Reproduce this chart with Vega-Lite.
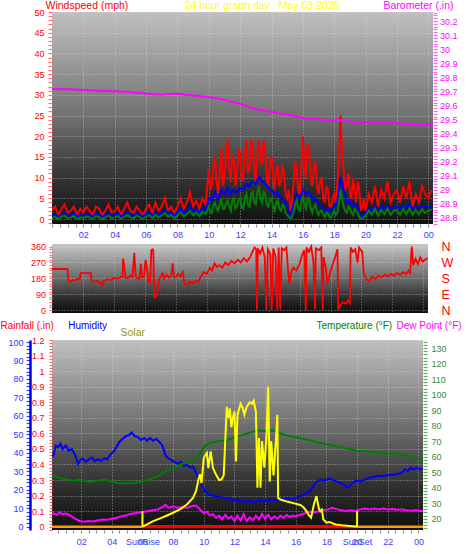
{
 "$schema": "https://vega.github.io/schema/vega-lite/v6.json",
 "padding": 0,
 "background": "#ffffff",
 "spacing": 0,
 "config": {
  "font": "Liberation Sans",
  "view": {"stroke": null},
  "axis": {"labelFont": "Liberation Sans", "labelFontSize": 9, "titleFont": "Liberation Sans", "titleFontWeight": "normal", "titleFontSize": 10.5, "domain": false, "labelOverlap": false, "labelFlush": false, "gridDash": [1, 2], "gridColor": "#d8d8d8", "gridWidth": 1, "tickWidth": 1.2, "labelBound": false}
 },
 "datasets": {
  "wind": [
   {"t":0.0,"g":2,"a":0.8,"l":0.2},{"t":0.2,"g":3,"a":1,"l":0.5},{"t":0.4,"g":1,"a":0.6,"l":0},{"t":0.6,"g":2.5,"a":1.2,"l":0.6},{"t":0.8,"g":3.5,"a":1.5,"l":0.8},
   {"t":1.0,"g":1.5,"a":0.8,"l":0.2},{"t":1.2,"g":2,"a":1,"l":0.4},{"t":1.4,"g":3,"a":1.3,"l":0.7},{"t":1.6,"g":1,"a":0.6,"l":0},{"t":1.8,"g":2.5,"a":1,"l":0.4},
   {"t":2.0,"g":1.5,"a":0.8,"l":0.3},{"t":2.2,"g":3,"a":1.2,"l":0.6},{"t":2.4,"g":2,"a":1,"l":0.4},{"t":2.6,"g":1,"a":0.6,"l":0},{"t":2.8,"g":3,"a":1.3,"l":0.7},
   {"t":3.0,"g":2.5,"a":1.1,"l":0.5},{"t":3.2,"g":1,"a":0.5,"l":0},{"t":3.4,"g":2,"a":1,"l":0.4},{"t":3.6,"g":3.5,"a":1.5,"l":0.8},{"t":3.8,"g":1.5,"a":0.8,"l":0.2},
   {"t":4.0,"g":2,"a":1,"l":0.4},{"t":4.2,"g":3,"a":1.3,"l":0.7},{"t":4.4,"g":1,"a":0.6,"l":0},{"t":4.6,"g":2.5,"a":1.1,"l":0.5},{"t":4.8,"g":4,"a":1.8,"l":1},
   {"t":5.0,"g":2,"a":1,"l":0.4},{"t":5.2,"g":1.5,"a":0.8,"l":0.2},{"t":5.4,"g":3,"a":1.4,"l":0.8},{"t":5.6,"g":2,"a":1,"l":0.4},{"t":5.8,"g":1,"a":0.6,"l":0},
   {"t":6.0,"g":2.5,"a":1.2,"l":0.6},{"t":6.2,"g":3.5,"a":1.6,"l":0.9},{"t":6.4,"g":1.5,"a":0.8,"l":0.2},{"t":6.6,"g":4,"a":1.8,"l":1},{"t":6.8,"g":2,"a":1,"l":0.4},
   {"t":7.0,"g":3,"a":1.4,"l":0.8},{"t":7.2,"g":5,"a":2.2,"l":1.4},{"t":7.4,"g":2,"a":1.1,"l":0.5},{"t":7.6,"g":3,"a":1.5,"l":0.9},{"t":7.8,"g":1.5,"a":0.8,"l":0.2},
   {"t":8.0,"g":3,"a":1.5,"l":0.8},{"t":8.2,"g":5,"a":2.4,"l":1.6},{"t":8.4,"g":2.5,"a":1.4,"l":0.6},{"t":8.6,"g":4,"a":2,"l":1.2},{"t":8.8,"g":6.5,"a":3,"l":2},
   {"t":9.0,"g":3,"a":1.8,"l":0.9},{"t":9.2,"g":4.5,"a":2.4,"l":1.6},{"t":9.4,"g":2.5,"a":1.5,"l":0.7},{"t":9.6,"g":5,"a":2.6,"l":1.8},{"t":9.8,"g":3.5,"a":2,"l":1.2},
   {"t":10.0,"g":12,"a":5,"l":3},{"t":10.1,"g":7,"a":4.8,"l":1.8},{"t":10.2,"g":8,"a":4.5,"l":1.5},{"t":10.3,"g":13,"a":5.5,"l":3.5},{"t":10.4,"g":15,"a":6.5,"l":4},{"t":10.5,"g":9,"a":5.5,"l":2.5},{"t":10.6,"g":6,"a":5,"l":2},{"t":10.7,"g":11,"a":6,"l":3.5},{"t":10.8,"g":17,"a":7,"l":5},{"t":10.9,"g":8,"a":6.5,"l":2.5},
   {"t":11.0,"g":10,"a":6,"l":2.5},{"t":11.1,"g":15,"a":6.8,"l":4},{"t":11.2,"g":19,"a":7.5,"l":4.5},{"t":11.3,"g":12,"a":6.5,"l":3},{"t":11.4,"g":9,"a":6,"l":2},{"t":11.5,"g":16,"a":6.8,"l":4.5},{"t":11.6,"g":14,"a":7,"l":5},{"t":11.7,"g":8,"a":6.5,"l":2.5},{"t":11.8,"g":11,"a":6.5,"l":3},{"t":11.9,"g":17,"a":7,"l":4.5},
   {"t":12.0,"g":16,"a":7.5,"l":5},{"t":12.1,"g":9,"a":7.2,"l":3},{"t":12.2,"g":10,"a":7,"l":2.5},{"t":12.3,"g":15,"a":7.8,"l":5},{"t":12.4,"g":19,"a":8.5,"l":6},{"t":12.5,"g":11,"a":8,"l":3.5},{"t":12.6,"g":12,"a":8,"l":3},{"t":12.7,"g":19,"a":8.8,"l":6},{"t":12.8,"g":18,"a":9,"l":6.5},{"t":12.9,"g":12,"a":8.8,"l":4},
   {"t":13.0,"g":9,"a":8.5,"l":3.5},{"t":13.1,"g":17,"a":9.5,"l":6.5},{"t":13.2,"g":19,"a":10.2,"l":8},{"t":13.3,"g":14,"a":9.8,"l":5},{"t":13.4,"g":13,"a":9,"l":4},{"t":13.5,"g":19,"a":9,"l":6.5},{"t":13.6,"g":17,"a":8.5,"l":6},{"t":13.7,"g":10,"a":8,"l":3.5},{"t":13.8,"g":8,"a":7.5,"l":3},{"t":13.9,"g":14,"a":7.2,"l":4.5},
   {"t":14.0,"g":15,"a":7,"l":5},{"t":14.1,"g":10,"a":6.5,"l":3},{"t":14.2,"g":7,"a":6,"l":2},{"t":14.3,"g":12,"a":6.2,"l":4},{"t":14.4,"g":13,"a":6.5,"l":4.5},{"t":14.5,"g":8,"a":5.5,"l":2.5},{"t":14.6,"g":9,"a":5,"l":2},{"t":14.7,"g":13,"a":5,"l":3.5},{"t":14.8,"g":11,"a":4.5,"l":3},{"t":14.9,"g":6,"a":3.8,"l":1.5},
   {"t":15.0,"g":5,"a":3,"l":1},{"t":15.1,"g":7,"a":2,"l":0.5},{"t":15.2,"g":2,"a":1,"l":0},{"t":15.3,"g":4,"a":2,"l":0.5},{"t":15.4,"g":8,"a":3.5,"l":1.5},{"t":15.5,"g":14,"a":5,"l":3.5},{"t":15.6,"g":12,"a":6,"l":4.5},{"t":15.7,"g":7,"a":5.5,"l":2.5},{"t":15.8,"g":6,"a":5,"l":2},{"t":15.9,"g":13,"a":6,"l":4},
   {"t":16.0,"g":20,"a":7,"l":5.5},{"t":16.1,"g":12,"a":6.5,"l":3.5},{"t":16.2,"g":10,"a":6,"l":2.5},{"t":16.3,"g":18,"a":6.5,"l":5},{"t":16.4,"g":17,"a":6.5,"l":5},{"t":16.5,"g":10,"a":5.5,"l":2.5},{"t":16.6,"g":8,"a":4.5,"l":1.5},{"t":16.7,"g":12,"a":4.8,"l":3},{"t":16.8,"g":14,"a":5,"l":3.5},{"t":16.9,"g":8,"a":4.2,"l":1.8},
   {"t":17.0,"g":6,"a":3.5,"l":1},{"t":17.1,"g":9,"a":3.2,"l":2},{"t":17.2,"g":10,"a":3,"l":2},{"t":17.3,"g":5,"a":2.5,"l":1},{"t":17.4,"g":4,"a":2,"l":0.5},{"t":17.5,"g":8,"a":2.2,"l":1.5},{"t":17.6,"g":7,"a":2.5,"l":1.5},{"t":17.7,"g":3,"a":1.8,"l":0.5},{"t":17.8,"g":3,"a":1.5,"l":0.3},{"t":17.9,"g":5,"a":2.2,"l":1.2},
   {"t":18.0,"g":6,"a":3,"l":2},{"t":18.1,"g":4,"a":3.5,"l":1},{"t":18.2,"g":9,"a":4.5,"l":1.5},{"t":18.3,"g":15,"a":7,"l":4},{"t":18.4,"g":25,"a":10,"l":7},{"t":18.5,"g":16,"a":8.5,"l":5},{"t":18.6,"g":12,"a":7,"l":3},{"t":18.7,"g":7,"a":5.5,"l":2},{"t":18.8,"g":8,"a":4,"l":1.5},{"t":18.9,"g":11,"a":4.2,"l":3},
   {"t":19.0,"g":6,"a":4.5,"l":2.5},{"t":19.1,"g":5,"a":3.5,"l":1.5},{"t":19.2,"g":10,"a":3,"l":1},{"t":19.3,"g":7,"a":3.5,"l":2.5},{"t":19.4,"g":4,"a":3.5,"l":2},{"t":19.5,"g":9,"a":2.5,"l":1.5},{"t":19.6,"g":7,"a":1.5,"l":0.5},{"t":19.7,"g":2,"a":0.8,"l":0},{"t":19.8,"g":3,"a":0.5,"l":0},{"t":19.9,"g":5,"a":1,"l":0.5},
   {"t":20.0,"g":2,"a":1.5,"l":0.8},{"t":20.2,"g":6,"a":2.5,"l":2},{"t":20.4,"g":4,"a":2,"l":1},{"t":20.6,"g":8,"a":3,"l":2.5},{"t":20.8,"g":3,"a":2,"l":0.8},
   {"t":21.0,"g":7,"a":3,"l":2.2},{"t":21.2,"g":5,"a":2.5,"l":1.2},{"t":21.4,"g":9,"a":3.2,"l":2.5},{"t":21.6,"g":4,"a":2.5,"l":1},{"t":21.8,"g":6,"a":2.8,"l":2},
   {"t":22.0,"g":7,"a":3,"l":2.2},{"t":22.2,"g":4,"a":2.5,"l":1},{"t":22.4,"g":8,"a":3.2,"l":2.5},{"t":22.6,"g":5,"a":2.8,"l":1.2},{"t":22.8,"g":9,"a":3.5,"l":2.6},
   {"t":23.0,"g":3,"a":2.5,"l":1},{"t":23.2,"g":6,"a":3,"l":2.2},{"t":23.4,"g":4,"a":2.6,"l":1.1},{"t":23.6,"g":8,"a":3.2,"l":2.4},{"t":23.8,"g":6,"a":3,"l":1.5},
   {"t":24.0,"g":5,"a":2.8,"l":2},{"t":24.2,"g":7,"a":3,"l":2.3}
  ],
  "baro": [
   {"t":0,"b":29.717},{"t":1,"b":29.715},{"t":2,"b":29.71},{"t":3,"b":29.705},{"t":4,"b":29.7},{"t":5,"b":29.695},{"t":5.5,"b":29.69},{"t":6,"b":29.685},{"t":6.5,"b":29.68},{"t":7,"b":29.678},{"t":7.5,"b":29.682},{"t":8,"b":29.685},{"t":8.5,"b":29.675},{"t":9,"b":29.67},{"t":9.5,"b":29.665},{"t":10,"b":29.66},{"t":10.5,"b":29.65},{"t":11,"b":29.64},{"t":11.5,"b":29.625},{"t":12,"b":29.61},{"t":12.5,"b":29.59},{"t":13,"b":29.575},{"t":13.5,"b":29.562},{"t":14,"b":29.553},{"t":14.5,"b":29.545},{"t":15,"b":29.535},{"t":15.5,"b":29.525},{"t":16,"b":29.51},{"t":16.5,"b":29.505},{"t":17,"b":29.503},{"t":17.5,"b":29.497},{"t":18,"b":29.49},{"t":18.2,"b":29.505},{"t":18.4,"b":29.495},{"t":18.6,"b":29.49},{"t":19,"b":29.485},{"t":19.5,"b":29.48},{"t":20,"b":29.482},{"t":20.5,"b":29.48},{"t":21,"b":29.48},{"t":21.5,"b":29.478},{"t":22,"b":29.475},{"t":22.5,"b":29.47},{"t":23,"b":29.465},{"t":23.5,"b":29.462},{"t":24,"b":29.46},{"t":24.3,"b":29.458}
  ],
  "dir": [
   {"t":0,"d":233},{"t":1.0,"d":233},{"t":1.05,"d":165},{"t":1.2,"d":162},{"t":1.35,"d":170},{"t":1.5,"d":168},{"t":1.65,"d":178},{"t":1.8,"d":175},{"t":1.85,"d":210},{"t":2.5,"d":210},{"t":2.55,"d":165},{"t":2.7,"d":160},{"t":2.9,"d":168},{"t":3.1,"d":155},{"t":3.25,"d":140},{"t":3.35,"d":165},{"t":3.6,"d":175},{"t":3.8,"d":170},{"t":4.0,"d":182},{"t":4.2,"d":178},{"t":4.4,"d":185},{"t":4.55,"d":190},{"t":4.6,"d":292},{"t":4.68,"d":240},{"t":4.75,"d":185},{"t":4.9,"d":182},{"t":5.05,"d":195},{"t":5.2,"d":188},{"t":5.32,"d":325},{"t":5.4,"d":200},{"t":5.5,"d":180},{"t":5.65,"d":175},{"t":5.75,"d":262},{"t":5.82,"d":185},{"t":5.95,"d":190},{"t":6.05,"d":285},{"t":6.15,"d":230},{"t":6.25,"d":160},{"t":6.35,"d":155},{"t":6.42,"d":340},{"t":6.5,"d":345},{"t":6.55,"d":338},{"t":6.6,"d":78},{"t":6.7,"d":75},{"t":6.8,"d":88},{"t":6.9,"d":170},{"t":7.0,"d":185},{"t":7.15,"d":210},{"t":7.25,"d":180},{"t":7.4,"d":200},{"t":7.55,"d":185},{"t":7.7,"d":195},{"t":7.8,"d":265},{"t":7.88,"d":190},{"t":8.0,"d":185},{"t":8.15,"d":205},{"t":8.3,"d":190},{"t":8.45,"d":215},{"t":8.55,"d":150},{"t":8.7,"d":142},{"t":8.9,"d":160},{"t":9.1,"d":152},{"t":9.3,"d":165},{"t":9.45,"d":160},{"t":9.6,"d":185},{"t":9.8,"d":215},{"t":10.0,"d":205},{"t":10.2,"d":240},{"t":10.35,"d":225},{"t":10.5,"d":265},{"t":10.65,"d":245},{"t":10.8,"d":255},{"t":11.0,"d":240},{"t":11.2,"d":270},{"t":11.4,"d":255},{"t":11.6,"d":280},{"t":11.8,"d":265},{"t":12.0,"d":285},{"t":12.2,"d":270},{"t":12.4,"d":295},{"t":12.6,"d":275},{"t":12.8,"d":300},{"t":13.0,"d":340},{"t":13.1,"d":355},{"t":13.2,"d":345},{"t":13.25,"d":2},{"t":13.3,"d":350},{"t":13.45,"d":320},{"t":13.6,"d":355},{"t":13.75,"d":300},{"t":13.85,"d":0},{"t":13.95,"d":345},{"t":14.1,"d":320},{"t":14.2,"d":0},{"t":14.3,"d":350},{"t":14.45,"d":300},{"t":14.55,"d":0},{"t":14.65,"d":355},{"t":14.75,"d":2},{"t":14.85,"d":350},{"t":15.0,"d":340},{"t":15.15,"d":355},{"t":15.25,"d":230},{"t":15.35,"d":150},{"t":15.45,"d":215},{"t":15.6,"d":240},{"t":15.8,"d":225},{"t":16.0,"d":260},{"t":16.15,"d":310},{"t":16.3,"d":340},{"t":16.4,"d":0},{"t":16.45,"d":355},{"t":16.6,"d":330},{"t":16.75,"d":360},{"t":16.9,"d":270},{"t":17.0,"d":5},{"t":17.05,"d":350},{"t":17.25,"d":340},{"t":17.4,"d":355},{"t":17.5,"d":0},{"t":17.55,"d":300},{"t":17.7,"d":240},{"t":17.8,"d":150},{"t":17.95,"d":200},{"t":18.1,"d":250},{"t":18.3,"d":300},{"t":18.45,"d":345},{"t":18.5,"d":2},{"t":18.65,"d":30},{"t":18.8,"d":45},{"t":19.0,"d":35},{"t":19.15,"d":55},{"t":19.25,"d":40},{"t":19.3,"d":355},{"t":19.45,"d":330},{"t":19.6,"d":345},{"t":19.75,"d":270},{"t":19.85,"d":355},{"t":20.05,"d":330},{"t":20.15,"d":210},{"t":20.3,"d":175},{"t":20.5,"d":165},{"t":20.7,"d":190},{"t":20.9,"d":175},{"t":21.1,"d":195},{"t":21.3,"d":185},{"t":21.5,"d":200},{"t":21.7,"d":190},{"t":21.9,"d":205},{"t":22.1,"d":195},{"t":22.3,"d":210},{"t":22.5,"d":200},{"t":22.7,"d":215},{"t":22.9,"d":205},{"t":23.05,"d":225},{"t":23.15,"d":212},{"t":23.25,"d":360},{"t":23.35,"d":255},{"t":23.5,"d":290},{"t":23.65,"d":260},{"t":23.8,"d":300},{"t":23.95,"d":275},{"t":24.1,"d":285},{"t":24.3,"d":295}
  ],
  "hum": [
   {"t":0.1,"h":38},{"t":0.2,"h":39},{"t":0.35,"h":44},{"t":0.5,"h":43},{"t":0.65,"h":45},{"t":0.8,"h":42},{"t":1.0,"h":44},{"t":1.2,"h":41},{"t":1.4,"h":42},{"t":1.6,"h":39},{"t":1.8,"h":34},{"t":1.95,"h":36},{"t":2.1,"h":37},{"t":2.3,"h":35},{"t":2.5,"h":36.5},{"t":2.7,"h":37.5},{"t":2.9,"h":35.5},{"t":3.1,"h":36.5},{"t":3.3,"h":35.5},{"t":3.5,"h":37},{"t":3.7,"h":36.5},{"t":3.9,"h":39},{"t":4.1,"h":40.5},{"t":4.3,"h":43},{"t":4.5,"h":46},{"t":4.7,"h":47.5},{"t":4.9,"h":49},{"t":5.1,"h":49.5},{"t":5.3,"h":51},{"t":5.5,"h":49},{"t":5.7,"h":48.5},{"t":5.9,"h":47},{"t":6.1,"h":48},{"t":6.3,"h":46.5},{"t":6.5,"h":48},{"t":6.7,"h":46.5},{"t":6.9,"h":47.5},{"t":7.1,"h":46},{"t":7.3,"h":44},{"t":7.5,"h":38.5},{"t":7.7,"h":37},{"t":7.9,"h":36},{"t":8.1,"h":35},{"t":8.3,"h":34},{"t":8.5,"h":35},{"t":8.7,"h":33},{"t":8.9,"h":33.5},{"t":9.1,"h":32},{"t":9.3,"h":32.5},{"t":9.5,"h":29},{"t":9.7,"h":26},{"t":9.9,"h":22},{"t":10.1,"h":19},{"t":10.3,"h":17.5},{"t":10.5,"h":17},{"t":10.8,"h":16.5},{"t":11.1,"h":16},{"t":11.4,"h":15.5},{"t":11.7,"h":15},{"t":12.0,"h":14.5},{"t":12.3,"h":14},{"t":12.6,"h":13.5},{"t":12.9,"h":14},{"t":13.2,"h":13.3},{"t":13.5,"h":13.8},{"t":13.8,"h":14.2},{"t":14.1,"h":14},{"t":14.4,"h":14.6},{"t":14.7,"h":14},{"t":15.0,"h":14.8},{"t":15.3,"h":15.2},{"t":15.6,"h":15},{"t":15.9,"h":15.5},{"t":16.2,"h":16},{"t":16.5,"h":17.5},{"t":16.8,"h":18.5},{"t":17.0,"h":20},{"t":17.3,"h":24},{"t":17.6,"h":25.5},{"t":17.9,"h":25},{"t":18.2,"h":26},{"t":18.5,"h":25},{"t":18.8,"h":24},{"t":19.1,"h":23},{"t":19.4,"h":21},{"t":19.6,"h":23},{"t":19.9,"h":25},{"t":20.2,"h":24.5},{"t":20.5,"h":25.5},{"t":20.8,"h":26.5},{"t":21.1,"h":27},{"t":21.4,"h":27.5},{"t":21.7,"h":27.5},{"t":22.0,"h":28},{"t":22.3,"h":28},{"t":22.6,"h":28.5},{"t":22.9,"h":29},{"t":23.1,"h":31},{"t":23.3,"h":30},{"t":23.5,"h":32},{"t":23.7,"h":31},{"t":23.9,"h":32},{"t":24.1,"h":31},{"t":24.3,"h":31.5}
  ],
  "temp": [
   {"t":0.1,"v":47},{"t":0.3,"v":47.5},{"t":0.6,"v":46},{"t":1.0,"v":45.5},{"t":1.5,"v":44.5},{"t":2.0,"v":45.5},{"t":2.5,"v":43.5},{"t":3.0,"v":44.5},{"t":3.5,"v":45.2},{"t":4.0,"v":44},{"t":4.5,"v":42.8},{"t":5.0,"v":42.8},{"t":5.5,"v":43},{"t":6.0,"v":44},{"t":6.5,"v":45.5},{"t":7.0,"v":47.5},{"t":7.5,"v":50.5},{"t":8.0,"v":53},{"t":8.5,"v":55},{"t":9.0,"v":56.5},{"t":9.5,"v":59.5},{"t":9.8,"v":63},{"t":10.1,"v":67},{"t":10.5,"v":69.5},{"t":11.0,"v":70},{"t":11.5,"v":70.5},{"t":12.0,"v":72.5},{"t":12.5,"v":74},{"t":13.0,"v":75.5},{"t":13.5,"v":77},{"t":14.0,"v":76.5},{"t":14.5,"v":77},{"t":15.0,"v":75},{"t":15.5,"v":73.5},{"t":16.0,"v":72.5},{"t":16.5,"v":71.5},{"t":17.0,"v":70.5},{"t":17.5,"v":69},{"t":18.0,"v":68},{"t":18.5,"v":67},{"t":19.0,"v":66},{"t":19.5,"v":65},{"t":20.0,"v":63.8},{"t":20.5,"v":63.5},{"t":21.0,"v":63},{"t":21.5,"v":62.5},{"t":22.0,"v":62},{"t":22.5,"v":61.5},{"t":23.0,"v":61},{"t":23.5,"v":60},{"t":24.0,"v":58.5},{"t":24.3,"v":58}
  ],
  "dew": [
   {"t":0.1,"v":23},{"t":0.2,"v":23.5},{"t":0.4,"v":22.5},{"t":0.6,"v":24},{"t":0.8,"v":22.8},{"t":1.0,"v":23.5},{"t":1.3,"v":22},{"t":1.6,"v":20},{"t":1.9,"v":18.5},{"t":2.2,"v":18},{"t":2.5,"v":18.5},{"t":2.8,"v":18.2},{"t":3.1,"v":19},{"t":3.4,"v":19.5},{"t":3.7,"v":19.3},{"t":4.0,"v":20},{"t":4.3,"v":20.5},{"t":4.6,"v":21.5},{"t":4.9,"v":22},{"t":5.2,"v":23},{"t":5.5,"v":23.5},{"t":5.8,"v":24},{"t":6.1,"v":24.5},{"t":6.4,"v":25},{"t":6.7,"v":25.5},{"t":7.0,"v":26},{"t":7.3,"v":27.5},{"t":7.5,"v":29},{"t":7.7,"v":27},{"t":8.0,"v":28},{"t":8.3,"v":27},{"t":8.6,"v":27.5},{"t":8.9,"v":27},{"t":9.2,"v":28},{"t":9.5,"v":28.5},{"t":9.8,"v":25.5},{"t":10.0,"v":23.5},{"t":10.2,"v":24.5},{"t":10.4,"v":22},{"t":10.6,"v":23},{"t":10.8,"v":20.5},{"t":11.0,"v":22},{"t":11.2,"v":19.5},{"t":11.4,"v":22.5},{"t":11.6,"v":20},{"t":11.8,"v":21.5},{"t":12.0,"v":18.5},{"t":12.2,"v":22},{"t":12.4,"v":19},{"t":12.6,"v":23},{"t":12.8,"v":18.5},{"t":13.0,"v":21},{"t":13.2,"v":19},{"t":13.4,"v":22},{"t":13.6,"v":19.5},{"t":13.8,"v":23},{"t":14.0,"v":20},{"t":14.2,"v":22.5},{"t":14.4,"v":19.5},{"t":14.6,"v":21.5},{"t":14.8,"v":20},{"t":15.0,"v":22},{"t":15.2,"v":20.5},{"t":15.4,"v":22.5},{"t":15.6,"v":21},{"t":15.8,"v":22},{"t":16.0,"v":21.5},{"t":16.3,"v":22.5},{"t":16.6,"v":23.5},{"t":16.9,"v":24.5},{"t":17.2,"v":24},{"t":17.5,"v":25},{"t":17.8,"v":25.5},{"t":18.1,"v":26},{"t":18.4,"v":27},{"t":18.7,"v":26},{"t":19.0,"v":25.5},{"t":19.3,"v":25},{"t":19.6,"v":25.5},{"t":19.9,"v":25},{"t":20.2,"v":26},{"t":20.5,"v":26.5},{"t":20.8,"v":26},{"t":21.1,"v":26.5},{"t":21.4,"v":26},{"t":21.7,"v":26.5},{"t":22.0,"v":26},{"t":22.3,"v":26.3},{"t":22.6,"v":25.8},{"t":22.9,"v":26},{"t":23.2,"v":25.5},{"t":23.5,"v":25.2},{"t":23.8,"v":25.5},{"t":24.1,"v":25},{"t":24.3,"v":25}
  ],
  "solar": [
   {"t":6.0,"s":0},{"t":6.3,"s":15},{"t":6.7,"s":36},{"t":7.2,"s":55},{"t":7.6,"s":72},{"t":8.0,"s":90},{"t":8.5,"s":115},{"t":8.9,"s":143},{"t":9.3,"s":185},{"t":9.5,"s":230},{"t":9.65,"s":300},{"t":9.75,"s":337},{"t":9.85,"s":280},{"t":10.0,"s":440},{"t":10.1,"s":460},{"t":10.2,"s":475},{"t":10.3,"s":377},{"t":10.45,"s":484},{"t":10.6,"s":377},{"t":10.8,"s":335},{"t":11.0,"s":300},{"t":11.15,"s":303},{"t":11.3,"s":330},{"t":11.4,"s":550},{"t":11.5,"s":770},{"t":11.6,"s":700},{"t":11.7,"s":760},{"t":11.8,"s":640},{"t":11.9,"s":700},{"t":12.0,"s":740},{"t":12.1,"s":420},{"t":12.2,"s":720},{"t":12.4,"s":790},{"t":12.55,"s":760},{"t":12.65,"s":720},{"t":12.8,"s":770},{"t":13.0,"s":800},{"t":13.15,"s":790},{"t":13.25,"s":810},{"t":13.4,"s":740},{"t":13.5,"s":250},{"t":13.6,"s":570},{"t":13.7,"s":250},{"t":13.8,"s":550},{"t":13.95,"s":380},{"t":14.1,"s":600},{"t":14.2,"s":900},{"t":14.3,"s":290},{"t":14.4,"s":550},{"t":14.55,"s":330},{"t":14.7,"s":550},{"t":14.8,"s":720},{"t":14.85,"s":185},{"t":15.0,"s":175},{"t":15.5,"s":160},{"t":15.9,"s":150},{"t":16.3,"s":140},{"t":16.5,"s":125},{"t":16.7,"s":100},{"t":16.85,"s":75},{"t":17.0,"s":58},{"t":17.2,"s":150},{"t":17.35,"s":197},{"t":17.5,"s":120},{"t":17.6,"s":100},{"t":17.7,"s":110},{"t":17.8,"s":47},{"t":18.0,"s":26},{"t":18.2,"s":30},{"t":18.6,"s":15},{"t":19.0,"s":10},{"t":19.5,"s":5},{"t":20.0,"s":0}
  ],
  "rain": [{"t":0.1,"r":0},{"t":24.3,"r":0}],
  "day": [{"t":6,"r":0},{"t":20,"r":0}],
  "sun": [{"t":6,"y0":0,"y1":0.1},{"t":20,"y0":0,"y1":0.1}]
 },
 "vconcat": [
  {
   "width": 381, "height": 212,
   "view": {"stroke": null, "fill": {"gradient": "linear", "x1": 0, "y1": 0, "x2": 0, "y2": 1, "stops": [{"offset": 0, "color": "#c0c0c0"}, {"offset": 0.5, "color": "#707070"}, {"offset": 0.75, "color": "#3a3a3a"}, {"offset": 1, "color": "#101010"}]}},
   "encoding": {
    "x": {"field": "t", "type": "quantitative", "scale": {"domain": [0, 24.3], "nice": false, "zero": false},
     "axis": {"orient": "bottom", "tickCount": 48, "labelExpr": "datum.value > 0 && datum.value % 2 == 0 ? (datum.value % 24 < 10 ? '0' : '') + (datum.value % 24) : ''", "labelColor": "#3c3cff", "tickColor": "#909090", "tickSize": 3, "labelPadding": 3.5, "grid": true, "gridOpacity": {"condition": {"test": "datum.value > 0 && datum.value % 2 == 0", "value": 0.6}, "value": 0}, "minExtent": 16, "maxExtent": 16, "title": "24 hour graph day : May 03 2026", "titleColor": "#ffff00", "titleFontSize": 10.5, "titleAlign": "center", "titleBaseline": "alphabetic", "titleX": 209.5, "titleY": -215.3}}
   },
   "layer": [
    {"data": {"name": "wind"}, "mark": {"type": "line", "color": "#ff0000", "strokeWidth": 2, "clip": true},
     "encoding": {"y": {"field": "g", "type": "quantitative", "scale": {"domain": [-1.2, 50], "nice": false, "zero": false},
      "axis": {"orient": "left", "tickCount": 51, "labelExpr": "datum.value >= 0 && datum.value % 5 == 0 ? datum.label : ''", "labelColor": "#ff0000", "tickColor": "#ff7070", "tickSize": 4, "labelPadding": 4, "grid": true, "gridOpacity": {"condition": {"test": "datum.value >= 0 && datum.value % 5 == 0", "value": 0.6}, "value": 0}, "minExtent": 42, "title": "Windspeed (mph)", "titleColor": "#ff0000", "titleFontSize": 10.5, "titleAngle": 0, "titleAlign": "left", "titleBaseline": "alphabetic", "titleX": -7, "titleY": -3.3}}}},
    {"data": {"name": "wind"}, "mark": {"type": "line", "color": "#0000ff", "strokeWidth": 2, "clip": true},
     "encoding": {"y": {"field": "a", "type": "quantitative", "scale": {"domain": [-1.2, 50], "nice": false, "zero": false}, "axis": null}}},
    {"data": {"name": "wind"}, "mark": {"type": "line", "color": "#008000", "strokeWidth": 2, "clip": true},
     "encoding": {"y": {"field": "l", "type": "quantitative", "scale": {"domain": [-1.2, 50], "nice": false, "zero": false}, "axis": null}}},
    {"data": {"name": "baro"}, "mark": {"type": "line", "color": "#ff00ff", "strokeWidth": 2, "clip": true},
     "encoding": {"y": {"field": "b", "type": "quantitative", "scale": {"domain": [28.757, 30.264], "nice": false, "zero": false},
      "axis": {"orient": "right", "tickCount": 80, "labelExpr": "round(datum.value*50) % 5 == 0 ? '' + round(datum.value*10)/10 : ''", "labelColor": "#ff00ff", "tickColor": "#ff60ff", "tickSize": 4, "labelPadding": 2.5, "grid": false, "title": "Barometer (.in)", "titleColor": "#ff00ff", "titleFontSize": 10.5, "titleAngle": 0, "titleAlign": "right", "titleBaseline": "alphabetic", "titleX": 20, "titleY": -3.3}}}}
   ],
   "resolve": {"scale": {"y": "independent"}}
  },
  {
   "width": 376, "height": 69,
   "view": {"stroke": null, "fill": {"gradient": "linear", "x1": 0, "y1": 0, "x2": 0, "y2": 1, "stops": [{"offset": 0, "color": "#c8c8c8"}, {"offset": 0.5, "color": "#6a6a6a"}, {"offset": 0.8, "color": "#2a2a2a"}, {"offset": 1, "color": "#0c0c0c"}]}},
   "data": {"name": "dir"},
   "encoding": {
    "x": {"field": "t", "type": "quantitative", "scale": {"domain": [0, 24.3], "nice": false, "zero": false},
     "axis": {"orient": "bottom", "values": [2, 4, 6, 8, 10, 12, 14, 16, 18, 20, 22, 24], "labels": false, "ticks": false, "grid": true, "gridOpacity": 0.5, "minExtent": 7, "maxExtent": 7, "title": null}}
   },
   "layer": [
    {"mark": {"type": "line", "color": "#ff0000", "strokeWidth": 1.8, "clip": true},
     "encoding": {"y": {"field": "d", "type": "quantitative", "scale": {"domain": [-17, 375], "nice": false, "zero": false},
      "axis": {"orient": "left", "values": [0, 15, 30, 45, 60, 75, 90, 105, 120, 135, 150, 165, 180, 195, 210, 225, 240, 255, 270, 285, 300, 315, 330, 345, 360], "labelExpr": "datum.value % 90 == 0 ? datum.label : ''", "labelColor": "#ff0000", "tickColor": "#ff7070", "tickSize": 3, "labelPadding": 3.5, "grid": true, "gridOpacity": {"condition": {"test": "datum.value % 90 == 0", "value": 0.6}, "value": 0}, "minExtent": 49, "title": null}}}},
    {"mark": {"type": "line", "opacity": 0, "clip": true},
     "encoding": {"y": {"field": "d", "type": "quantitative",
      "axis": {"orient": "right", "values": [0, 90, 180, 270, 360], "labelExpr": "datum.value == 90 ? 'E' : datum.value == 180 ? 'S' : datum.value == 270 ? 'W' : 'N'", "labelColor": "#ff0000", "labelFontSize": 12.5, "ticks": false, "labelPadding": 13, "grid": false, "title": null}}}}
   ],
   "resolve": {"axis": {"y": "independent"}}
  },
  {
   "width": 371, "height": 190,
   "view": {"stroke": null, "fill": {"gradient": "linear", "x1": 0, "y1": 0, "x2": 0, "y2": 1, "stops": [{"offset": 0, "color": "#c0c0c0"}, {"offset": 0.45, "color": "#707070"}, {"offset": 0.75, "color": "#333333"}, {"offset": 1, "color": "#0e0e0e"}]}},
   "layer": [
    {"data": {"name": "rain"}, "mark": {"type": "line", "color": "#ff9900", "strokeWidth": 2.5, "clip": true},
     "encoding": {
      "x": {"field": "t", "type": "quantitative", "scale": {"domain": [0.1, 24.3], "nice": false, "zero": false},
       "axis": {"orient": "bottom", "tickCount": 48, "labelExpr": "datum.value > 0 && datum.value % 2 == 0 ? (datum.value % 24 < 10 ? '0' : '') + (datum.value % 24) : ''", "labelColor": "#3c3cff", "tickColor": "#909090", "tickSize": 3, "labelPadding": 4.5, "grid": true, "gridOpacity": {"condition": {"test": "datum.value > 0 && datum.value % 2 == 0", "value": 0.6}, "value": 0}, "title": null}},
      "y": {"field": "r", "type": "quantitative", "scale": {"domain": [-0.021, 1.2], "nice": false, "zero": false},
       "axis": {"orient": "left", "tickCount": 60, "labelExpr": "round(datum.value*50) % 5 == 0 ? '' + round(datum.value*10)/10 : ''", "labelColor": "#ff0000", "tickColor": "#ff6060", "tickSize": 3, "labelPadding": 5, "grid": true, "gridOpacity": {"condition": {"test": "round(datum.value*50) % 5 == 0", "value": 0.6}, "value": 0}, "minExtent": 52, "title": "Rainfall (.in)", "titleColor": "#ff0000", "titleFontSize": 10, "titleAngle": 0, "titleAlign": "left", "titleBaseline": "alphabetic", "titleX": -52, "titleY": -11.5}}}},
    {"data": {"name": "day"}, "mark": {"type": "line", "color": "#ff0000", "strokeWidth": 3, "clip": true},
     "encoding": {
      "x": {"field": "t", "type": "quantitative", "scale": {"domain": [0.1, 24.3], "nice": false, "zero": false}, "axis": null},
      "y": {"field": "r", "type": "quantitative", "scale": {"domain": [-0.021, 1.2], "nice": false, "zero": false}, "axis": null}}},
    {"data": {"name": "hum"}, "mark": {"type": "line", "color": "#0000ff", "strokeWidth": 2, "clip": true},
     "encoding": {
      "x": {"field": "t", "type": "quantitative", "scale": {"domain": [0.1, 24.3], "nice": false, "zero": false}, "axis": null},
      "y": {"field": "h", "type": "quantitative", "scale": {"domain": [-1.8, 101.1], "nice": false, "zero": false},
       "axis": {"orient": "left", "offset": 22, "tickCount": 50, "labelExpr": "datum.value % 10 == 0 ? datum.label : ''", "labelColor": "#3333ff", "tickColor": "#4040ff", "tickSize": 4, "labelPadding": 3, "domain": true, "domainColor": "#0000ff", "domainWidth": 2.5, "grid": false, "title": "Humidity", "titleColor": "#0000ff", "titleFontSize": 10, "titleAngle": 0, "titleAlign": "left", "titleBaseline": "alphabetic", "titleX": 37.7, "titleY": -11.5}}}},
    {"data": {"name": "temp"}, "mark": {"type": "line", "color": "#008000", "strokeWidth": 2, "clip": true},
     "encoding": {
      "x": {"field": "t", "type": "quantitative", "scale": {"domain": [0.1, 24.3], "nice": false, "zero": false}, "axis": null},
      "y": {"field": "v", "type": "quantitative", "scale": {"domain": [12.7, 135.3], "nice": false, "zero": false},
       "axis": {"orient": "right", "tickCount": 61, "labelExpr": "datum.value % 10 == 0 ? datum.label : ''", "labelColor": "#3a8a3a", "tickColor": "#60b060", "tickSize": 4, "labelPadding": 4, "grid": false, "title": "Temperature (°F)", "titleColor": "#008000", "titleFontSize": 10, "titleAngle": 0, "titleAlign": "left", "titleBaseline": "alphabetic", "titleX": -107, "titleY": -11.5}}}},
    {"data": {"name": "dew"}, "mark": {"type": "line", "color": "#ff00ff", "strokeWidth": 2, "clip": true},
     "encoding": {
      "x": {"field": "t", "type": "quantitative", "scale": {"domain": [0.1, 24.3], "nice": false, "zero": false}, "axis": null},
      "y": {"field": "v", "type": "quantitative", "scale": {"domain": [12.7, 135.3], "nice": false, "zero": false},
       "axis": {"orient": "right", "labels": false, "ticks": false, "grid": false, "title": "Dew Point (°F)", "titleColor": "#ff00ff", "titleFontSize": 10, "titleAngle": 0, "titleAlign": "left", "titleBaseline": "alphabetic", "titleX": -27, "titleY": -11.5}}}},
    {"data": {"name": "solar"}, "mark": {"type": "line", "color": "#ffff00", "strokeWidth": 2, "clip": true},
     "encoding": {
      "x": {"field": "t", "type": "quantitative", "scale": {"domain": [0.1, 24.3], "nice": false, "zero": false}, "axis": null},
      "y": {"field": "s", "type": "quantitative", "scale": {"domain": [-21, 1200], "nice": false, "zero": false},
       "axis": {"orient": "left", "labels": false, "ticks": false, "grid": false, "title": "Solar", "titleColor": "#999900", "titleFontSize": 10.5, "titleAngle": 0, "titleAlign": "left", "titleBaseline": "alphabetic", "titleX": 68, "titleY": -5}}}},
    {"data": {"name": "sun"}, "mark": {"type": "rule", "color": "#ffff00", "strokeWidth": 2},
     "encoding": {
      "x": {"field": "t", "type": "quantitative", "scale": {"domain": [0.1, 24.3], "nice": false, "zero": false},
       "axis": {"orient": "bottom", "values": [6, 20], "labelExpr": "datum.value == 6 ? 'SunRise' : 'SunSet'", "labelColor": "#3c3cff", "tickSize": 3, "tickOpacity": 0, "labelPadding": 4.5, "grid": false, "title": null}},
      "y": {"field": "y0", "type": "quantitative", "scale": {"domain": [-0.021, 1.2], "nice": false, "zero": false}, "axis": null},
      "y2": {"field": "y1"}}}
   ],
   "resolve": {"scale": {"y": "independent"}, "axis": {"y": "independent", "x": "independent"}}
  }
 ]
}
